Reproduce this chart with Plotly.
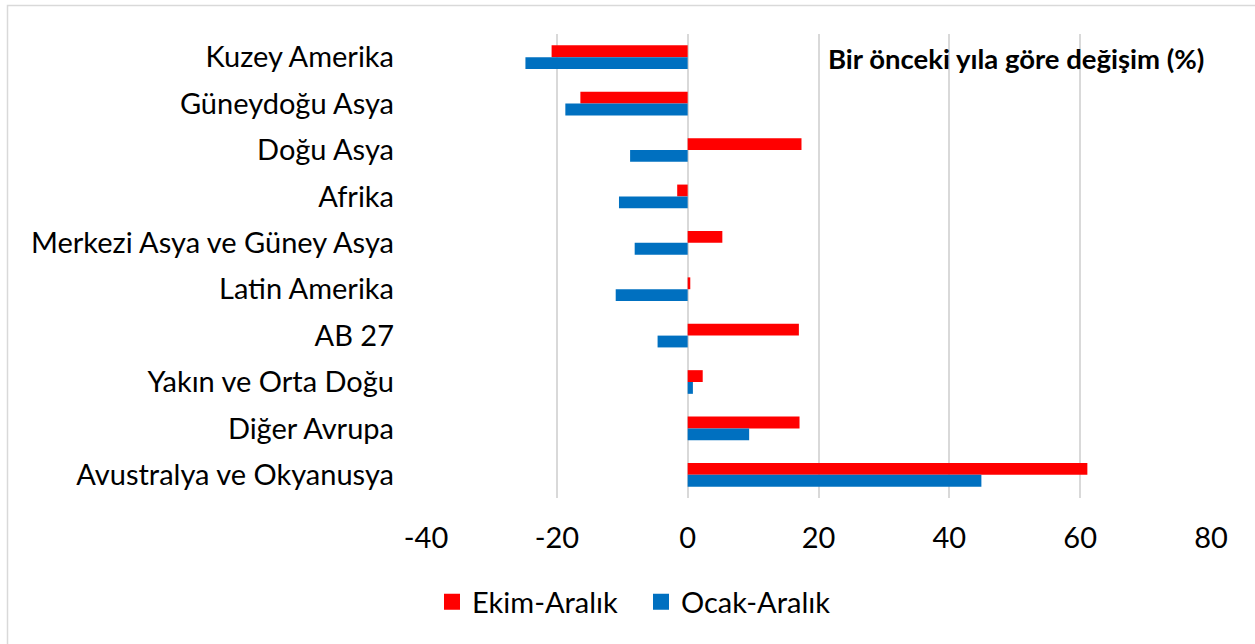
import plotly.graph_objects as go

categories = ["Kuzey Amerika", "Güneydoğu Asya", "Doğu Asya", "Afrika",
              "Merkezi Asya ve Güney Asya", "Latin Amerika", "AB 27",
              "Yakın ve Orta Doğu", "Diğer Avrupa", "Avustralya ve Okyanusya"]
ekim_aralik = [-20.8, -16.4, 17.4, -1.6, 5.3, 0.4, 17.0, 2.3, 17.1, 61.1]
ocak_aralik = [-24.8, -18.7, -8.8, -10.5, -8.1, -11.0, -4.6, 0.8, 9.4, 44.9]
tick_vals = [-40, -20, 0, 20, 40, 60, 80]
tick_labels = ["-40", "-20", "0", "20", "40", "60", "80"]
series_names = ["Ekim-Aralık", "Ocak-Aralık"]
series_colors = ["#FF0000", "#0070C0"]

W, H = 1255, 644
L, R, T, B = 426, 44, 34, 146
pw = W - L - R
ph = H - T - B
FONT = "Lato"
FS = 29

fig = go.Figure()
for name, vals, col in zip(series_names, [ekim_aralik, ocak_aralik], series_colors):
    fig.add_trace(go.Bar(y=categories, x=vals, orientation="h", name=name,
                         marker=dict(color=col, line=dict(width=0)), showlegend=False))
# legend entries with larger square symbols
for name, col in zip(series_names, series_colors):
    fig.add_trace(go.Scatter(x=[None], y=[None], mode="markers", name=name,
                             marker=dict(symbol="square", size=18, color=col)))

# outer frame (only top and left edges visible in the reference)
fig.add_shape(type="rect", xref="paper", yref="paper",
              x0=(7.5 - L) / pw, x1=(W + 10 - L) / pw,
              y0=-(H + 10 - T - ph) / ph, y1=1 + (T - 5.5) / ph,
              line=dict(color="#D9D9D9", width=1.5))

fig.add_annotation(text="<b>Bir önceki yıla göre değişim (%)</b>", xref="paper", yref="paper",
                   x=(1206 - L) / pw, y=1 - (58 - T) / ph, xanchor="right", yanchor="middle",
                   showarrow=False, font=dict(size=27.5, color="#000000", family=FONT))

fig.update_layout(
    width=W, height=H,
    margin=dict(l=L, r=R, t=T, b=B, pad=0, autoexpand=False),
    paper_bgcolor="white", plot_bgcolor="white",
    barmode="group", bargap=0.49, bargroupgap=0,
    font=dict(family=FONT, size=FS, color="#000000"),
    xaxis=dict(range=[-40, 80], tickvals=tick_vals, ticktext=tick_labels, showgrid=True,
               gridcolor="#D9D9D9", gridwidth=2, zeroline=True, zerolinecolor="#D9D9D9",
               zerolinewidth=2, showline=False, ticks="", tickfont=dict(size=FS),
               ticklabelstandoff=20, automargin=False),
    yaxis=dict(categoryorder="array", categoryarray=categories, autorange="reversed",
               showgrid=False, showline=False, ticks="", tickfont=dict(size=FS),
               ticklabelstandoff=31, automargin=False),
    legend=dict(orientation="h", x=(641 - L) / pw, xanchor="center",
                y=-(602 - T - ph) / ph, yanchor="middle",
                font=dict(size=FS), traceorder="normal", itemwidth=30,
                entrywidth=164, bgcolor="rgba(0,0,0,0)"),
    showlegend=True,
)

fig.write_html("out.html", config={"displayModeBar": False},
               post_script="document.body.style.margin='0px';")
